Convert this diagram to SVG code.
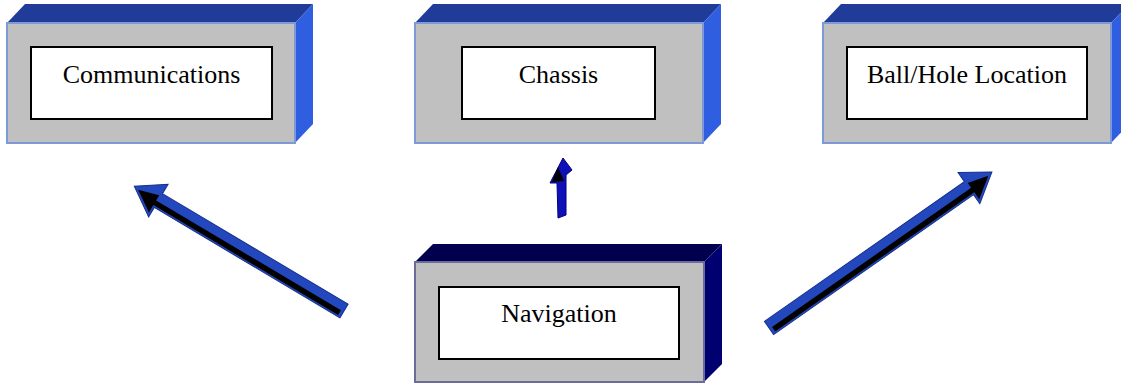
<svg xmlns="http://www.w3.org/2000/svg" width="1121" height="385" viewBox="0 0 1121 385">
<style>
.front{fill:#c0c0c0;stroke:#7f98d8;stroke-width:2}
.top{fill:#203b98}
.side{fill:#2f5ee0}
.nfront{fill:#c0c0c0;stroke:#6c6c9c;stroke-width:2}
.ntop{fill:#00004e}
.nside{fill:#000070}
.inner{fill:#fff;stroke:#000;stroke-width:2}
.lbl{font-family:"Liberation Serif","Times New Roman",serif;font-size:26px;fill:#000;text-anchor:middle}
.ab{fill:#2348bd;stroke:#16308c;stroke-width:1}
.ak{fill:#000}
</style>
<g id="communications">
<polygon class="top" points="7,23 25,4 313,4 295,23"/>
<polygon class="side" points="295,23 313,4 313,124 295,143"/>
<rect class="front" x="7" y="23" width="288" height="120"/>
<rect class="inner" x="31" y="47" width="241" height="72"/>
<text class="lbl" x="151.5" y="83">Communications</text>
</g>
<g id="chassis">
<polygon class="top" points="415,23 433,4 721,4 703,23"/>
<polygon class="side" points="703,23 721,4 721,124 703,143"/>
<rect class="front" x="415" y="23" width="288" height="120"/>
<rect class="inner" x="462" y="47" width="193" height="72"/>
<text class="lbl" x="558.5" y="83">Chassis</text>
</g>
<g id="ball-hole-location">
<polygon class="top" points="823,23 841,4 1129,4 1111,23"/>
<polygon class="side" points="1111,23 1129,4 1129,124 1111,143"/>
<rect class="front" x="823" y="23" width="288" height="120"/>
<rect class="inner" x="847" y="47" width="240" height="72"/>
<text class="lbl" x="967" y="83">Ball/Hole Location</text>
</g>
<g id="navigation">
<polygon class="ntop" points="415,262 433,244 722,244 704,262"/>
<polygon class="nside" points="704,262 722,244 722,364 704,382"/>
<rect class="nfront" x="415" y="262" width="289" height="120"/>
<rect class="inner" x="439" y="287" width="240" height="72"/>
<text class="lbl" x="559" y="322">Navigation</text>
</g>
<g id="connectors">
<g transform="translate(344,311) rotate(-149.25) scale(1,-1)">
<polygon class="ab" points="0,-8 216,-8 216,-19 244,0 216,19 216,8 0,8"/>
<polygon class="ak" points="3,1 218,1 218,-5 239,1 218,15 218,6.5 3,6.5"/>
</g>
<g transform="translate(769,328) rotate(-34.97)">
<polygon class="ab" points="0,-8 244,-8 244,-19 272,0 244,19 244,8 0,8"/>
<polygon class="ak" points="3,1 246,1 246,-5 267,1 246,15 246,6.5 3,6.5"/>
</g>
<g>
<polygon fill="#1010b8" stroke="#000080" stroke-width="1" points="563,158 572,170 566,175 566,215 558,218 557,183 550,183"/>
<polygon class="ak" points="558,167 564,181 552,182"/>
</g>
</g>
</svg>
